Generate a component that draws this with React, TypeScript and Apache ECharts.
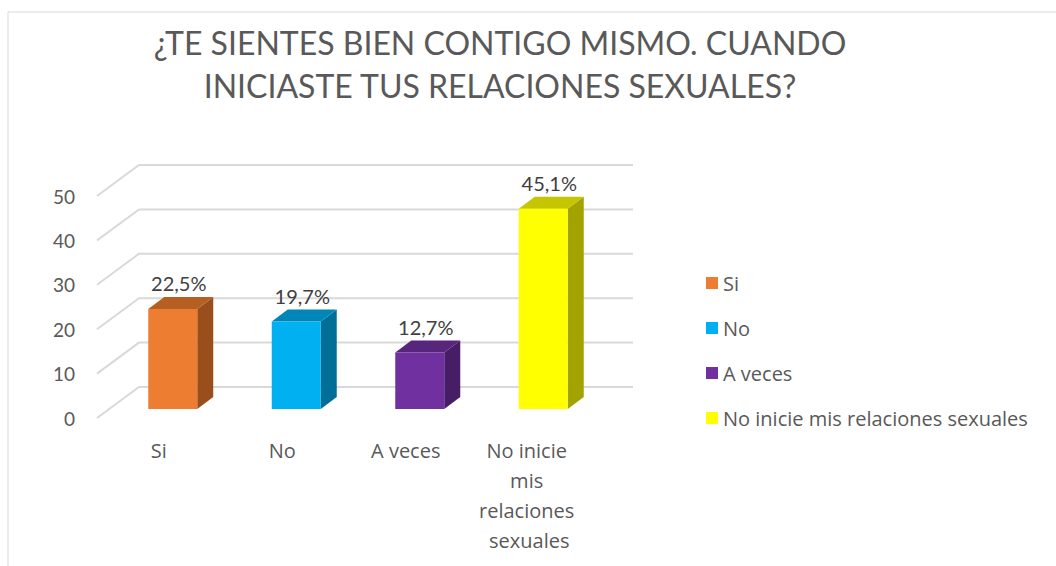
import React, { useEffect, useRef } from "react";
import * as echarts from "echarts";

const categories = ["Si", "No", "A veces", "No inicie mis relaciones sexuales"];
const values = [22.5, 19.7, 12.7, 45.1];
const yTicks = [0, 10, 20, 30, 40, 50];
const titleText = "¿TE SIENTES BIEN CONTIGO MISMO. CUANDO\nINICIASTE TUS RELACIONES SEXUALES?";

const frontColors = ["#ED7D31", "#00B0F0", "#7030A0", "#FFFF00"];
const sideColors = ["#9A4E1C", "#006F97", "#471E65", "#A3A300"];
const topColors = ["#B65F23", "#0087B8", "#57257B", "#C5C500"];

const FONT = "Lato, 'Open Sans', sans-serif";
const TEXT_FONT = "'Open Sans', Lato, sans-serif";
const DX = 42;
const DY = 31;
const BAR_OX = 14;
const BAR_OY = -9;
const BAR_W = 49;
const BAR_DX = 16;
const BAR_DY = 12;

const fmt = (v: number) => v.toFixed(1).replace(".", ",") + "%";

export default function App() {
  const ref = useRef<HTMLDivElement>(null);
  useEffect(() => {
    const chart = echarts.init(ref.current!, null, { renderer: "svg" });

    const gridSeries: any = {
      type: "custom",
      name: "__grid",
      silent: true,
      clip: false,
      z: 1,
      data: yTicks.map((t) => [0, t]),
      encode: { x: 0, y: 1 },
      renderItem: (params: any, api: any) => {
        const cs = params.coordSys;
        const y = api.coord([0, api.value(1)])[1];
        return {
          type: "polyline",
          shape: {
            points: [
              [cs.x, y],
              [cs.x + DX, y - DY],
              [cs.x + cs.width + DX, y - DY],
            ],
          },
          style: { stroke: "#D9D9D9", lineWidth: 2, fill: "none" },
        };
      },
    };

    const barSeries = categories.map((name, i) => ({
      type: "custom",
      name,
      clip: false,
      z: 2,
      itemStyle: { color: frontColors[i] },
      data: [[i, values[i]]],
      encode: { x: 0, y: 1 },
      renderItem: (params: any, api: any) => {
        const idx = api.value(0);
        const val = api.value(1);
        const top = api.coord([idx, val]);
        const base = api.coord([idx, 0]);
        const x = top[0] + BAR_OX - BAR_W / 2;
        const ty = top[1] + BAR_OY;
        const by = base[1] + BAR_OY;
        return {
          type: "group",
          children: [
            {
              type: "polygon",
              shape: {
                points: [
                  [x + BAR_W, ty],
                  [x + BAR_W + BAR_DX, ty - BAR_DY],
                  [x + BAR_W + BAR_DX, by - BAR_DY],
                  [x + BAR_W, by],
                ],
              },
              style: { fill: sideColors[i] },
            },
            {
              type: "polygon",
              shape: {
                points: [
                  [x, ty],
                  [x + BAR_DX, ty - BAR_DY],
                  [x + BAR_W + BAR_DX, ty - BAR_DY],
                  [x + BAR_W, ty],
                ],
              },
              style: { fill: topColors[i] },
            },
            {
              type: "rect",
              shape: { x, y: ty, width: BAR_W, height: by - ty },
              style: { fill: frontColors[i] },
            },
            {
              type: "text",
              x: x + (BAR_W + BAR_DX) / 2 - 2,
              y: ty - BAR_DY - 4,
              style: {
                text: fmt(val),
                fill: "#404040",
                font: `20px ${FONT}`,
                align: "center",
                verticalAlign: "bottom",
              },
            },
          ],
        };
      },
    }));

    chart.setOption({
      animation: false,
      backgroundColor: "#FFFFFF",
      title: {
        text: titleText,
        left: 500,
        top: 21,
        textAlign: "center",
        padding: 0,
        textStyle: {
          fontFamily: FONT,
          fontWeight: "normal",
          fontSize: 32,
          lineHeight: 43,
          color: "#595959",
        },
      },
      graphic: [
        {
          type: "rect",
          shape: { x: 8, y: 12, width: 1100, height: 600 },
          style: { fill: "none", stroke: "#D9D9D9", lineWidth: 1 },
          silent: true,
          z: -1,
        },
      ],
      legend: {
        orient: "vertical",
        left: 701,
        top: 268,
        icon: "rect",
        itemWidth: 12,
        itemHeight: 12,
        itemGap: 25,
        data: categories,
        textStyle: { fontFamily: TEXT_FONT, fontSize: 20, lineHeight: 20, color: "#595959" },
      },
      grid: { left: 97, top: 196, width: 494, height: 222 },
      xAxis: {
        type: "category",
        data: categories,
        axisLine: { show: false },
        axisTick: { show: false },
        splitLine: { show: false },
        axisLabel: {
          interval: 0,
          margin: 17,
          fontFamily: TEXT_FONT,
          fontSize: 20,
          lineHeight: 30,
          color: "#595959",
          width: 105,
          overflow: "break",
        },
      },
      yAxis: {
        type: "value",
        min: 0,
        max: 50,
        interval: 10,
        axisLine: { show: false },
        axisTick: { show: false },
        splitLine: { show: false },
        axisLabel: { margin: 22, fontFamily: FONT, fontSize: 19, color: "#595959" },
      },
      series: [gridSeries, ...barSeries],
    });
    return () => chart.dispose();
  }, []);
  return (
    <div
      ref={ref}
      style={{ position: "fixed", left: 0, top: 0, width: 1056, height: 566 }}
    />
  );
}
